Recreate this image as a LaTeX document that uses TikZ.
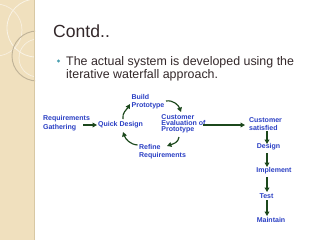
\documentclass[tikz,border=0pt]{standalone}
\usepackage{fontspec}
\setmainfont{Liberation Sans}
\usetikzlibrary{arrows.meta}
\definecolor{beige}{HTML}{F0E0BE}
\definecolor{beigeline}{HTML}{D8C8A4}
\definecolor{lblblue}{HTML}{2A3FC4}
\definecolor{arrgreen}{HTML}{1C481C}
\definecolor{titlecol}{HTML}{33282A}
\definecolor{bulletcol}{HTML}{4A9FB0}
\begin{document}
\begin{tikzpicture}[x=0.03cm,y=-0.03cm,
  lbl/.style={font=\fontsize{6}{6.6}\selectfont\bfseries, text=lblblue, inner sep=0pt, align=left},
  arr/.style={draw=arrgreen, line width=1pt, -{Triangle[length=3.8pt,width=4pt]}}]
\useasboundingbox (0,0) rectangle (320,240);
\fill[white] (0,0) rectangle (320,240);
\fill[beige] (0,0) rectangle (35,240);
\begin{scope}
  \clip (0,0) rectangle (35,240);
  \draw[white!60!beige, line width=0.7pt] (36,28) circle (29);
  \draw[white!50!beige, line width=0.6pt] (-4,30) circle (26);
  \draw[black!20!beige, line width=0.8pt] (37,56) circle (25);
  \draw[white!55!beige, line width=0.6pt] (38,58) circle (19);
\end{scope}
\draw[beigeline, line width=0.6pt] (34.5,0) -- (34.5,240);
% title and bullet
\node[anchor=base west, inner sep=0pt, font=\fontsize{15}{15}\selectfont, text=titlecol] (title) at (53,37) {Contd..};
\node[circle, fill=bulletcol, inner sep=0pt, minimum size=2.6pt] (dot) at (58.5,61) {};
\node[anchor=base west, inner sep=0pt, align=left, font=\fontsize{10.6}{11}\selectfont, text=titlecol] (bullet) at (66,78)
  {The actual system is developed using the\\iterative waterfall approach.};
% labels
\node[lbl] (req) at (66.5,123) {Requirements\\[1.5pt]Gathering};
\node[lbl] (qd) at (120.5,125) {Quick Design};
\node[lbl] (build) at (148,102) {Build\\Prototype};
\node[lbl, font=\fontsize{6}{5.2}\selectfont\bfseries] (eval) at (183.5,124) {Customer\\Evaluation of\\Prototype};
\node[lbl] (refine) at (162.5,152) {Refine\\Requirements};
\node[lbl] (sat) at (265.5,124) {Customer\\satisfied};
\node[lbl] (design) at (268.5,147) {Design};
\node[lbl] (impl) at (274,171) {Implement};
\node[lbl] (test) at (266.5,196) {Test};
\node[lbl] (maint) at (271,219.5) {Maintain};
% arrows
\draw[arr] ([shift={(16.5,2)}]req.center) -- ([shift={(-23.5,0)}]qd.center);
\draw[arr] ([shift={(2.5,-6)}]qd.center) to[out=100,in=240] ([shift={(-18,2)}]build.center);
\draw[arr] ([shift={(18,-1)}]build.center) to[out=10,in=110] ([shift={(-2.5,-12)}]eval.center);
\draw[arr] ([shift={(-4.5,13)}]eval.center) to[out=-95,in=20] ([shift={(4.5,-6)}]refine.center);
\draw[arr] ([shift={(-25,-7)}]refine.center) to[out=175,in=-70] ([shift={(2.5,7)}]qd.center);
\draw[arr] ([shift={(19.5,1)}]eval.center) -- ([shift={(-20.5,1)}]sat.center);
\draw[arr] ([shift={(1.5,7)}]sat.center) -- ([shift={(-1.5,-3)}]design.center);
\draw[arr] ([shift={(-1.5,6)}]design.center) -- ([shift={(-7,-4)}]impl.center);
\draw[arr] ([shift={(-7,6)}]impl.center) -- ([shift={(0.5,-4)}]test.center);
\draw[arr] ([shift={(0.5,4)}]test.center) -- ([shift={(-4,-3.5)}]maint.center);
\end{tikzpicture}
\end{document}
